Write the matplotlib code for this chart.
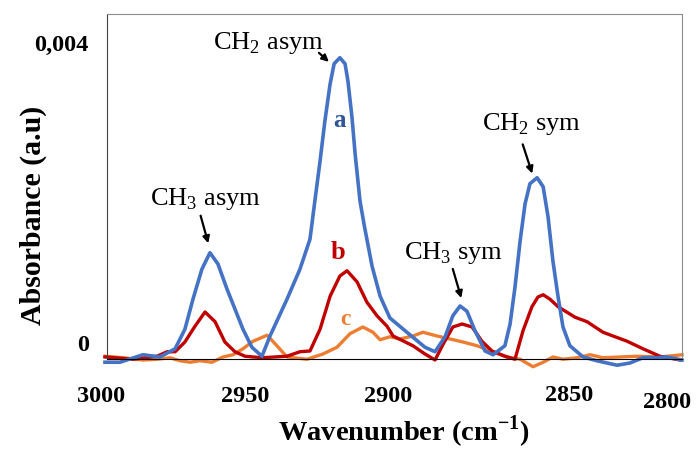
import matplotlib
matplotlib.use("Agg")
import matplotlib.pyplot as plt

plt.rcParams['font.family'] = ['Liberation Serif', 'DejaVu Serif']
plt.rcParams['mathtext.fontset'] = 'custom'
plt.rcParams['mathtext.rm'] = 'Liberation Serif'
plt.rcParams['mathtext.bf'] = 'Liberation Serif:bold'

# absorbance values (x 1e-3 a.u.)
wn_a = [3000.7, 2995.5, 2987.5, 2981.6, 2976.3, 2972.9, 2970.1, 2967.0, 2964.2,
        2961.4, 2958.3, 2955.5, 2952.7, 2949.6, 2946.1, 2943.3, 2937.4, 2932.9,
        2929.4, 2927.7, 2925.9, 2924.2, 2922.4, 2921.0, 2919.0, 2917.2, 2916.2,
        2914.8, 2913.7, 2912.0, 2910.5, 2907.8, 2905.0, 2901.6, 2895.7, 2889.4,
        2885.9, 2882.4, 2879.7, 2877.2, 2874.8, 2872.0, 2868.5, 2865.7, 2861.6,
        2859.8, 2858.1, 2856.3, 2854.6, 2852.9, 2850.4, 2848.3, 2846.6, 2844.9,
        2843.1, 2841.4, 2839.0, 2834.4, 2829.6, 2822.6, 2818.1, 2813.6, 2808.7,
        2805.2, 2800.0]
abs_a = [-0.27, -0.27, -0.17, -0.20, -0.09, 0.17, 0.57, 0.97, 1.19,
         1.04, 0.71, 0.44, 0.17, -0.07, -0.19, 0.08, 0.57, 0.97,
         1.37, 1.88, 2.41, 2.95, 3.44, 3.71, 3.79, 3.71, 3.48,
         3.00, 2.51, 1.88, 1.55, 1.01, 0.61, 0.32, 0.13, -0.07,
         -0.13, 0.07, 0.35, 0.48, 0.41, 0.15, -0.12, -0.17, -0.05,
         0.24, 0.73, 1.35, 1.84, 2.11, 2.19, 2.07, 1.67, 1.08,
         0.60, 0.20, -0.05, -0.20, -0.25, -0.31, -0.28, -0.21, -0.21,
         -0.20, -0.24]

wn_b = [3000.7, 2991.0, 2982.6, 2979.1, 2976.3, 2972.9, 2969.4, 2965.9, 2962.4,
        2959.0, 2955.5, 2952.0, 2946.1, 2937.4, 2932.9, 2929.4, 2925.9, 2922.4,
        2919.0, 2916.5, 2913.0, 2909.6, 2906.1, 2902.6, 2900.5, 2893.6, 2889.4,
        2885.9, 2883.1, 2879.7, 2876.5, 2873.0, 2869.6, 2866.1, 2861.6, 2858.1,
        2855.3, 2852.2, 2850.1, 2848.3, 2845.9, 2843.1, 2837.2, 2833.0, 2827.5,
        2819.1, 2813.6, 2807.7, 2800.7]
abs_b = [-0.20, -0.23, -0.19, -0.13, -0.13, 0.00, 0.21, 0.40, 0.27,
         0.00, -0.13, -0.19, -0.21, -0.19, -0.13, -0.12, 0.17, 0.61,
         0.88, 0.95, 0.80, 0.53, 0.35, 0.21, 0.08, -0.05, -0.16,
         -0.24, -0.03, 0.20, 0.24, 0.20, 0.01, -0.12, -0.19, -0.23,
         0.15, 0.47, 0.60, 0.63, 0.57, 0.47, 0.33, 0.27, 0.13,
         0.01, -0.09, -0.19, -0.24]

wn_c = [3000.7, 2994.4, 2987.5, 2982.6, 2978.1, 2974.6, 2971.1, 2967.7, 2963.5,
        2959.7, 2956.2, 2952.7, 2949.2, 2944.3, 2940.9, 2937.4, 2930.4, 2924.9,
        2920.0, 2915.5, 2911.0, 2907.5, 2905.0, 2901.6, 2898.1, 2893.6, 2890.1,
        2885.2, 2880.7, 2876.2, 2871.3, 2865.7, 2860.9, 2856.3, 2851.8, 2848.3,
        2844.9, 2841.4, 2836.5, 2832.0, 2827.5, 2821.6, 2815.7, 2807.7, 2800.0]
abs_c = [-0.19, -0.21, -0.24, -0.23, -0.21, -0.25, -0.27, -0.25, -0.27,
         -0.20, -0.17, -0.09, 0.01, 0.09, -0.05, -0.20, -0.23, -0.16,
         -0.07, 0.11, 0.20, 0.13, 0.03, 0.07, 0.04, 0.08, 0.13,
         0.08, 0.04, 0.00, -0.05, -0.13, -0.20, -0.23, -0.33, -0.27,
         -0.20, -0.23, -0.21, -0.17, -0.21, -0.20, -0.19, -0.20, -0.17]

x_labels = ['3000', '2950', '2900', '2850', '2800']
x_label_pos = [3002.1, 2952.0, 2902.3, 2839.3, 2805.2]
x_label_y = [-0.72, -0.72, -0.72, -0.70, -0.79]

fig = plt.figure(figsize=(6.97, 4.52), dpi=100)
ax = fig.add_axes([0.1535, 0.2035, 0.825, 0.7633])

ax.plot(wn_c, abs_c, color='#ED7D31', linewidth=2.4, clip_on=False,
        solid_joinstyle='round')
ax.plot(wn_b, abs_b, color='#C00000', linewidth=2.4, clip_on=False,
        solid_joinstyle='round')
ax.plot(wn_a, abs_a, color='#4472C4', linewidth=2.6, clip_on=False,
        solid_joinstyle='round')

ax.set_xlim(3000, 2800)
ax.set_ylim(-0.227, 4.373)

ax.set_xticks([])
ax.set_yticks([0, 4])
ax.set_yticklabels(['0', '0,004'], fontsize=17.5, fontweight='bold')
ax.tick_params(axis='y', length=0, pad=13)

for lab, xp, yp in zip(x_labels, x_label_pos, x_label_y):
    ax.text(xp, yp, lab, fontsize=17.5, fontweight='bold', ha='center',
            va='center', clip_on=False)

for side in ['top', 'right']:
    ax.spines[side].set_color('#8c8c8c')
ax.spines['left'].set_color('#404040')
ax.spines['left'].set_linewidth(0.8)
ax.spines['bottom'].set_color('black')

# peak labels
ax.text(2944.0, 4.0, 'CH$_2$ asym', fontsize=19, ha='center', va='center')
ax.text(2965.6, 1.92, 'CH$_3$ asym', fontsize=19, ha='center', va='center')
ax.text(2852.5, 2.92, 'CH$_2$ sym', fontsize=19, ha='center', va='center')
ax.text(2879.3, 1.20, 'CH$_3$ sym', fontsize=19, ha='center', va='center')

arrow = dict(arrowstyle='-|>', color='black', lw=1.6, mutation_scale=10)
ax.annotate('', xy=(2922.1, 3.71), xytext=(2927.0, 3.88), arrowprops=arrow)
ax.annotate('', xy=(2964.5, 1.28), xytext=(2967.7, 1.72), arrowprops=arrow)
ax.annotate('', xy=(2876.5, 0.55), xytext=(2880.0, 1.01), arrowprops=arrow)
ax.annotate('', xy=(2851.8, 2.21), xytext=(2855.7, 2.67), arrowprops=arrow)

ax.text(2919.3, 2.97, 'a', color='#2F5597', fontsize=18, fontweight='bold',
        ha='center', va='center')
ax.text(2919.7, 1.20, 'b', color='#C00000', fontsize=19, fontweight='bold',
        ha='center', va='center')
ax.text(2916.9, 0.31, 'c', color='#ED7D31', fontsize=17, fontweight='bold',
        ha='center', va='center')

ax.set_ylabel('Absorbance (a.u)', fontsize=21.5, fontweight='bold', labelpad=0)
ax.yaxis.set_label_coords(-0.104, 0.42)
fig.text(0.58, 0.026, r'Wavenumber (cm$^{\mathbf{-1}}$)', fontsize=20.5,
         fontweight='bold', ha='center', va='baseline')

plt.savefig('out.png', dpi=100)
plt.close('all')
